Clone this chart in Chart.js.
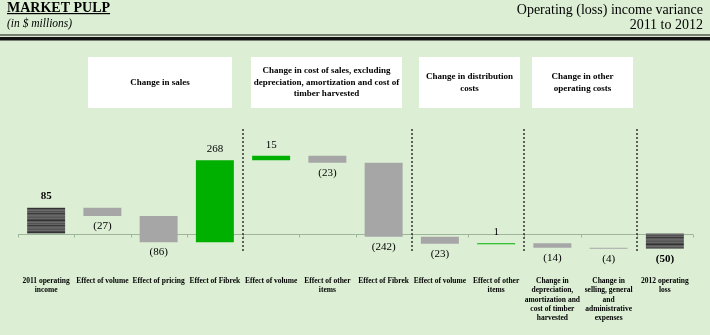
<!DOCTYPE html>
<html>
<head>
<meta charset="utf-8">
<script src="https://cdn.jsdelivr.net/npm/chart.js@4/dist/chart.umd.min.js"></script>
<style>
  html, body { margin: 0; padding: 0; background: #dcefd5; }
  #wrap { position: relative; width: 710px; height: 335px; overflow: hidden; }
  canvas { display: block; }
</style>
</head>
<body>
<div id="wrap"><canvas id="c" width="710" height="335"></canvas></div>
<script>
// ---- data ----
const categories = [
  ['2011 operating', 'income'],
  'Effect of volume',
  'Effect of pricing',
  'Effect of Fibrek',
  'Effect of volume',
  ['Effect of other', 'items'],
  'Effect of Fibrek',
  'Effect of volume',
  ['Effect of other', 'items'],
  ['Change in', 'depreciation,', 'amortization and', 'cost of timber', 'harvested'],
  ['Change in', 'selling, general', 'and', 'administrative', 'expenses'],
  ['2012 operating', 'loss']
];
const values = [85, -27, -86, 268, 15, -23, -242, -23, 1, -14, -4, -50];
const isTotal = [true, false, false, false, false, false, false, false, false, false, false, true];
const valueLabels = ['85', '(27)', '(86)', '268', '15', '(23)', '(242)', '(23)', '1', '(14)', '(4)', '(50)'];
const groupTitles = [
  ['Change in sales'],
  ['Change in cost of sales, excluding', 'depreciation, amortization and cost of', 'timber harvested'],
  ['Change in distribution', 'costs'],
  ['Change in other', 'operating costs']
];
const groupStart = [1, 4, 7, 9];
const groupEnd = [3, 6, 8, 10];
const dividerAfter = [3, 6, 8, 10];
const chartTitle = 'MARKET PULP';
const chartSubtitle = '(in $ millions)';
const rightTitle = ['Operating (loss) income variance', '2011 to 2012'];

// ---- build floating ranges ----
const ranges = [];
let run = 0;
values.forEach((v, i) => {
  if (isTotal[i]) { ranges.push([0, v]); run = v; }
  else { ranges.push([run, run + v]); run += v; }
});

// ---- textured pattern for totals ----
function makePattern() {
  const pc = document.createElement('canvas');
  pc.width = 4; pc.height = 12;
  const p = pc.getContext('2d');
  const rows = ['#5f5f5f', '#555555', '#6a6a6a', '#474747', '#333333', '#5c5c5c',
                '#6c6c6c', '#525252', '#636363', '#3c3c3c', '#585858', '#686868'];
  rows.forEach((c, r) => { p.fillStyle = c; p.fillRect(0, r, 4, 1); });
  return document.getElementById('c').getContext('2d').createPattern(pc, 'repeat');
}
const pattern = makePattern();
const colors = values.map((v, i) => isTotal[i] ? pattern : (v > 0 ? '#00b000' : '#a6a6a6'));

const SERIF = '"Liberation Serif", "Times New Roman", serif';
// style: header box insets from category boundaries (px)
const BOX_INSET_L = [14, 8, 7, 8];
const BOX_INSET_R = [11, 10, 4, 4];

const decorPlugin = {
  id: 'decor',
  beforeDraw(chart) {
    const ctx = chart.ctx;
    ctx.save();
    // titles
    ctx.fillStyle = '#000';
    ctx.textBaseline = 'alphabetic';
    ctx.textAlign = 'left';
    ctx.font = 'bold 14px ' + SERIF;
    ctx.fillText(chartTitle, 7, 12);
    const tw = ctx.measureText(chartTitle).width;
    ctx.fillRect(7, 13, tw, 1.2);
    ctx.font = 'italic 11.5px ' + SERIF;
    ctx.fillText(chartSubtitle, 7, 27);
    ctx.textAlign = 'right';
    ctx.font = '14px ' + SERIF;
    ctx.fillText(rightTitle[0], 703, 14);
    ctx.fillText(rightTitle[1], 703, 29);
    // rules
    ctx.fillStyle = '#111';
    ctx.fillRect(0, 34.5, 710, 1);
    ctx.fillRect(0, 37, 710, 3.5);

    // header boxes
    const x = chart.scales.x;
    const step = x.getPixelForValue(1) - x.getPixelForValue(0);
    const bnd = i => x.getPixelForValue(i) - step / 2;
    groupTitles.forEach((lines, g) => {
      const l = Math.round(bnd(groupStart[g]) + BOX_INSET_L[g]);
      const r = Math.round(bnd(groupEnd[g] + 1) - BOX_INSET_R[g]);
      ctx.fillStyle = '#ffffff';
      ctx.fillRect(l, 57, r - l, 51);
      ctx.fillStyle = '#000';
      ctx.font = 'bold 9px ' + SERIF;
      ctx.textAlign = 'center';
      ctx.textBaseline = 'middle';
      const lh = 11.5;
      const cy = 82.5;
      lines.forEach((t, k) => {
        ctx.fillText(t, (l + r) / 2, cy + (k - (lines.length - 1) / 2) * lh);
      });
    });
    ctx.restore();
  },
  beforeDatasetsDraw(chart) {
    const ctx = chart.ctx;
    const x = chart.scales.x, y = chart.scales.y;
    const area = chart.chartArea;
    const y0 = Math.round(y.getPixelForValue(0)) + 0.5;
    ctx.save();
    ctx.strokeStyle = '#9db69a';
    ctx.lineWidth = 1;
    ctx.beginPath();
    ctx.moveTo(area.left, y0);
    ctx.lineTo(area.right, y0);
    const step = x.getPixelForValue(1) - x.getPixelForValue(0);
    for (let i = 0; i <= categories.length; i++) {
      const bx = Math.round(x.getPixelForValue(i) - step / 2) + 0.5;
      ctx.moveTo(bx, y0);
      ctx.lineTo(bx, y0 + 3);
    }
    ctx.stroke();
    ctx.restore();
  },
  afterDatasetsDraw(chart) {
    const ctx = chart.ctx;
    const x = chart.scales.x;
    const step = x.getPixelForValue(1) - x.getPixelForValue(0);
    ctx.save();
    // dotted dividers
    ctx.strokeStyle = '#333';
    ctx.lineWidth = 1.5;
    ctx.setLineDash([2, 2]);
    dividerAfter.forEach(i => {
      const bx = Math.round(x.getPixelForValue(i) + step / 2);
      ctx.beginPath();
      ctx.moveTo(bx, 129);
      ctx.lineTo(bx, 251);
      ctx.stroke();
    });
    ctx.setLineDash([]);
    // value labels
    const meta = chart.getDatasetMeta(0);
    ctx.fillStyle = '#000';
    ctx.textAlign = 'center';
    ctx.textBaseline = 'middle';
    meta.data.forEach((bar, i) => {
      const top = Math.min(bar.y, bar.base);
      const bottom = Math.max(bar.y, bar.base);
      ctx.font = (isTotal[i] ? 'bold ' : '') + '11px ' + SERIF;
      if (values[i] > 0) ctx.fillText(valueLabels[i], bar.x, top - 11);
      else ctx.fillText(valueLabels[i], bar.x, bottom + 10);
    });
    ctx.restore();
  }
};

new Chart(document.getElementById('c'), {
  type: 'bar',
  data: {
    labels: categories,
    datasets: [{
      data: ranges,
      backgroundColor: colors,
      borderWidth: 0,
      barPercentage: 0.675,
      categoryPercentage: 1,
      minBarLength: 1
    }]
  },
  options: {
    responsive: false,
    animation: false,
    devicePixelRatio: 1,
    layout: { padding: { top: 142, left: 18, right: 17, bottom: 0 } },
    plugins: { legend: { display: false }, tooltip: { enabled: false } },
    scales: {
      x: {
        offset: true,
        grid: { display: false, drawTicks: false },
        border: { display: false },
        ticks: {
          color: '#000',
          font: { family: SERIF, size: 7.5, weight: 'bold', lineHeight: 1.25 },
          padding: 12,
          maxRotation: 0,
          minRotation: 0,
          autoSkip: false
        }
      },
      y: { display: false, min: -100, max: 300 }
    }
  },
  plugins: [decorPlugin]
});
</script>
</body>
</html>
